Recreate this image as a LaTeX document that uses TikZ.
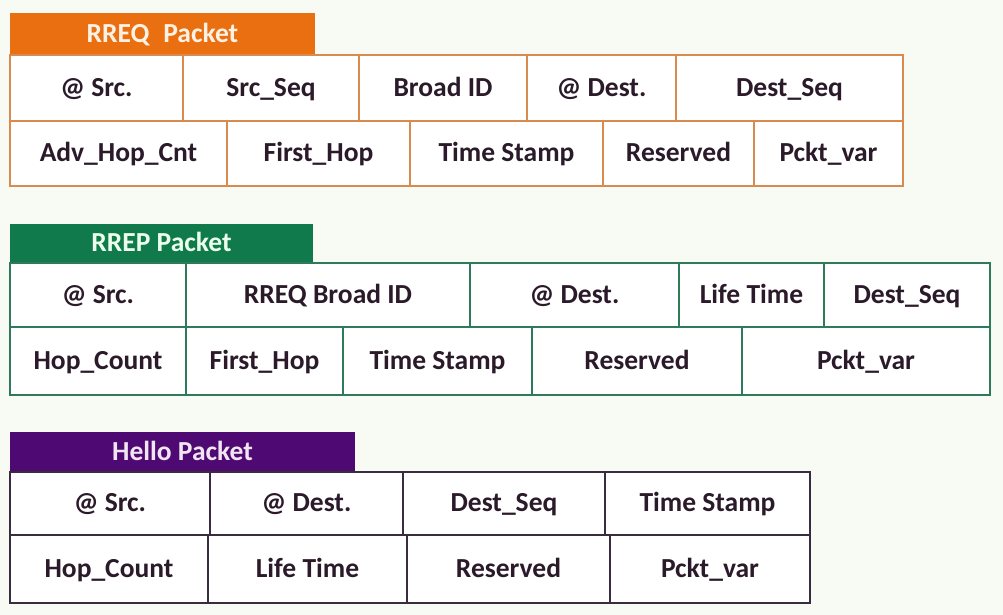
\documentclass[tikz,border=0pt]{standalone}
\usepackage{fontspec}
\setmainfont{Carlito}
\usepackage{tikz}
\usetikzlibrary{positioning}
\definecolor{paper}{HTML}{F7FBF3}
\definecolor{ink}{HTML}{2B1A2A}
\definecolor{reqhead}{HTML}{EA6F10}
\definecolor{reqline}{HTML}{D98A4E}
\definecolor{rephead}{HTML}{107A4C}
\definecolor{repline}{HTML}{2E7A5A}
\definecolor{hellohead}{HTML}{4E0A72}
\definecolor{helloline}{HTML}{3A2C40}
\tikzset{%
  % Specifications for style of nodes:
      cw/.style = {minimum width=#1*0.03cm},
      rh/.style = {minimum height=#1*0.03cm},
    cell/.style = {rectangle, draw, fill=white, inner sep=0pt, outer sep=0pt,
                   line width=1.1pt, text=ink, text centered,
                   text height=19pt, text depth=4.5pt,
                   font=\fontsize{23.5}{26}\selectfont\bfseries},
    head/.style = {cell, draw=none, text=white},
  reqcell/.style = {cell, draw=reqline},
  repcell/.style = {cell, draw=repline},
  hellocell/.style = {cell, draw=helloline},
}

\begin{document}
\begin{tikzpicture}[x=0.03cm, y=-0.03cm]
  \fill[paper] (0,0) rectangle (1003,615);
  \useasboundingbox (0,0) rectangle (1003,615);
  % RREQ packet
  \node (reqTitle) [head, fill=reqhead, text=white!90!orange, cw=305, rh=42, anchor=north west] at (10,13) {RREQ\enspace Packet};
  \node (reqSrc)     [reqcell, cw=173, rh=66, anchor=north west] at (10,55) {@ Src.};
  \node (reqSrcSeq)  [reqcell, cw=176, rh=66, right=0pt of reqSrc]      {Src\_Seq};
  \node (reqBroad)   [reqcell, cw=168, rh=66, right=0pt of reqSrcSeq]   {Broad ID};
  \node (reqDest)    [reqcell, cw=149, rh=66, right=0pt of reqBroad]    {@ Dest.};
  \node (reqDestSeq) [reqcell, cw=227, rh=66, right=0pt of reqDest]     {Dest\_Seq};
  \node (reqHop)     [reqcell, cw=217, rh=65, anchor=north west] at (10,121) {Adv\_Hop\_Cnt};
  \node (reqFirst)   [reqcell, cw=183, rh=65, right=0pt of reqHop]      {First\_Hop};
  \node (reqTime)    [reqcell, cw=193, rh=65, right=0pt of reqFirst]    {Time Stamp};
  \node (reqRes)     [reqcell, cw=151, rh=65, right=0pt of reqTime]     {Reserved};
  \node (reqVar)     [reqcell, cw=149, rh=65, right=0pt of reqRes]      {Pckt\_var};
  % RREP packet
  \node (repTitle) [head, fill=rephead, text=white!92!green, cw=303, rh=39, anchor=north west] at (10,224) {RREP Packet};
  \node (repSrc)     [repcell, cw=176, rh=64, anchor=north west] at (10,263) {@ Src.};
  \node (repBroad)   [repcell, cw=284, rh=64, right=0pt of repSrc]      {RREQ Broad ID};
  \node (repDest)    [repcell, cw=209, rh=64, right=0pt of repBroad]    {@ Dest.};
  \node (repLife)    [repcell, cw=145, rh=64, right=0pt of repDest]     {Life Time};
  \node (repDestSeq) [repcell, cw=166, rh=64, right=0pt of repLife]     {Dest\_Seq};
  \node (repHop)     [repcell, cw=176, rh=68, anchor=north west] at (10,327) {Hop\_Count};
  \node (repFirst)   [repcell, cw=157, rh=68, right=0pt of repHop]      {First\_Hop};
  \node (repTime)    [repcell, cw=189, rh=68, right=0pt of repFirst]    {Time Stamp};
  \node (repRes)     [repcell, cw=210, rh=68, right=0pt of repTime]     {Reserved};
  \node (repVar)     [repcell, cw=248, rh=68, right=0pt of repRes]      {Pckt\_var};
  % Hello packet
  \node (helloTitle) [head, fill=hellohead, text=white!90!violet, cw=345, rh=40, anchor=north west] at (10,432) {Hello Packet};
  \node (helloSrc)   [hellocell, cw=200, rh=63, anchor=north west] at (10,472) {@ Src.};
  \node (helloDest)  [hellocell, cw=193, rh=63, right=0pt of helloSrc]  {@ Dest.};
  \node (helloSeq)   [hellocell, cw=202, rh=63, right=0pt of helloDest] {Dest\_Seq};
  \node (helloTime)  [hellocell, cw=205, rh=63, right=0pt of helloSeq]  {Time Stamp};
  \node (helloHop)   [hellocell, cw=198, rh=68, anchor=north west] at (10,535) {Hop\_Count};
  \node (helloLife)  [hellocell, cw=199, rh=68, right=0pt of helloHop]  {Life Time};
  \node (helloRes)   [hellocell, cw=203, rh=68, right=0pt of helloLife] {Reserved};
  \node (helloVar)   [hellocell, cw=200, rh=68, right=0pt of helloRes]  {Pckt\_var};
\end{tikzpicture}
\end{document}
